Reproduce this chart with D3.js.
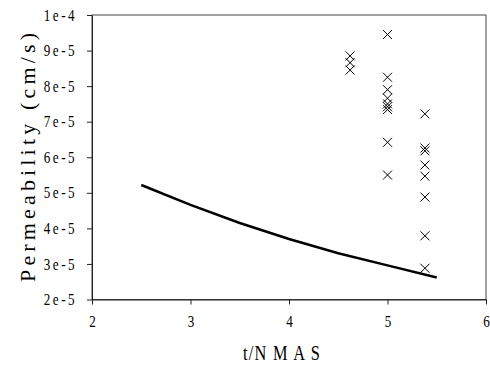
<html lang = "en">
    <head>
        <title>Permeability vs t/NMAS</title>
        <meta charset = "utf-8">
        <style>
            body {margin: 0; background: white;}
            svg {background: white;}
            .marker {stroke: #000; stroke-width: 1; fill: none;}
            .curve {fill: none; stroke: #000; stroke-width: 2.5;}
        </style>
    </head>
    <body>
        <div id = "chart"></div>
        <script src="https://d3js.org/d3.v7.min.js"></script>
        <script>
            // measured data (x = t/NMAS, y = permeability cm/s)
            var pointsX = [4.62, 4.62, 4.62,
                           5, 5, 5, 5, 5, 5, 5, 5, 5,
                           5.38, 5.38, 5.38, 5.38, 5.38, 5.38, 5.38, 5.38];
            var pointsY = [8.85e-5, 8.66e-5, 8.45e-5,
                           9.45e-5, 8.25e-5, 7.9e-5, 7.66e-5, 7.5e-5, 7.42e-5, 7.34e-5, 6.42e-5, 5.5e-5,
                           7.22e-5, 6.26e-5, 6.18e-5, 5.78e-5, 5.47e-5, 4.88e-5, 3.79e-5, 2.88e-5];

            var curveX = [2.5, 3, 3.5, 4, 4.5, 5, 5.5];
            var curveY = [5.22e-5, 4.66e-5, 4.15e-5, 3.70e-5, 3.30e-5, 2.96e-5, 2.62e-5];

            var xTicks = [2, 3, 4, 5, 6];
            var yTicks = [2e-5, 3e-5, 4e-5, 5e-5, 6e-5, 7e-5, 8e-5, 9e-5, 1e-4];
            var yTickLabels = ["2e-5", "3e-5", "4e-5", "5e-5", "6e-5", "7e-5", "8e-5", "9e-5", "1e-4"];

            var xTitle = "t/N M A S";
            var yTitle = "Permeability (cm/s)";

            var width = 490, height = 370;
            var plot = {left: 92, top: 15, right: 486, bottom: 299.5};
            var serif = "'Liberation Serif', 'Times New Roman', serif";
            var squeeze = 0.82; // the original glyphs look horizontally condensed

            var svg = d3.select("#chart")
                .append("svg")
                .attr("width", width)
                .attr("height", height);

            var x = d3.scaleLinear()
                .domain([2, 6])
                .range([plot.left, plot.right]);

            var y = d3.scaleLinear()
                .domain([2e-5, 1e-4])
                .range([plot.bottom, plot.top]);

            // frame (top + right)
            svg.append("rect")
                .attr("x", plot.left)
                .attr("y", plot.top)
                .attr("width", plot.right - plot.left)
                .attr("height", plot.bottom - plot.top)
                .style("fill", "none")
                .style("stroke", "#444")
                .style("stroke-width", 1);

            var xAxis = svg.append("g")
                .attr("transform", "translate(0," + plot.bottom + ")")
                .call(d3.axisBottom(x)
                    .tickValues(xTicks)
                    .tickSize(5)
                    .tickSizeOuter(0)
                    .tickPadding(11)
                    .tickFormat(d3.format("d")));

            var yAxis = svg.append("g")
                .attr("transform", "translate(" + plot.left + ",0)")
                .call(d3.axisLeft(y)
                    .tickValues(yTicks)
                    .tickSize(5)
                    .tickSizeOuter(0)
                    .tickPadding(14)
                    .tickFormat(function(d, i) { return yTickLabels[i]; }));

            svg.selectAll(".tick text")
                .style("font-family", serif)
                .style("font-size", "16px")
                .style("fill", "#000");

            xAxis.selectAll(".tick text")
                .attr("transform", "scale(" + squeeze + ",1)");

            yAxis.selectAll(".tick text")
                .style("letter-spacing", "3px")
                .attr("x", -15 / squeeze)
                .attr("transform", "scale(" + squeeze + ",1)");

            svg.selectAll(".domain").style("stroke", "#222");
            svg.selectAll(".tick line").style("stroke", "#222");

            // fitted curve
            var line = d3.line()
                .x(function(d) { return x(d[0]); })
                .y(function(d) { return y(d[1]); });

            svg.append("path")
                .datum(curveX.map(function(d, i) { return [d, curveY[i]]; }))
                .attr("class", "curve")
                .attr("d", line);

            // x markers
            var s = 4.5;
            svg.selectAll(".marker")
                .data(pointsX.map(function(d, i) { return [d, pointsY[i]]; }))
                .enter().append("path")
                .attr("class", "marker")
                .attr("d", function(d)
                    {
                        var cx = x(d[0]), cy = y(d[1]);
                        return "M" + (cx - s) + "," + (cy - s) + "L" + (cx + s) + "," + (cy + s) +
                               "M" + (cx - s) + "," + (cy + s) + "L" + (cx + s) + "," + (cy - s);
                    });

            // axis titles
            svg.append("text")
                .attr("transform", "translate(282,360) scale(" + squeeze + ",1)")
                .attr("text-anchor", "middle")
                .style("font-family", serif)
                .style("font-size", "20px")
                .style("letter-spacing", "1.5px")
                .style("fill", "#000")
                .text(xTitle);

            svg.append("text")
                .attr("transform", "translate(35,282) rotate(-90)")
                .attr("textLength", 249)
                .attr("lengthAdjust", "spacing")
                .style("font-family", serif)
                .style("font-size", "22px")
                .style("fill", "#000")
                .text(yTitle);
        </script>
    </body>
</html>
